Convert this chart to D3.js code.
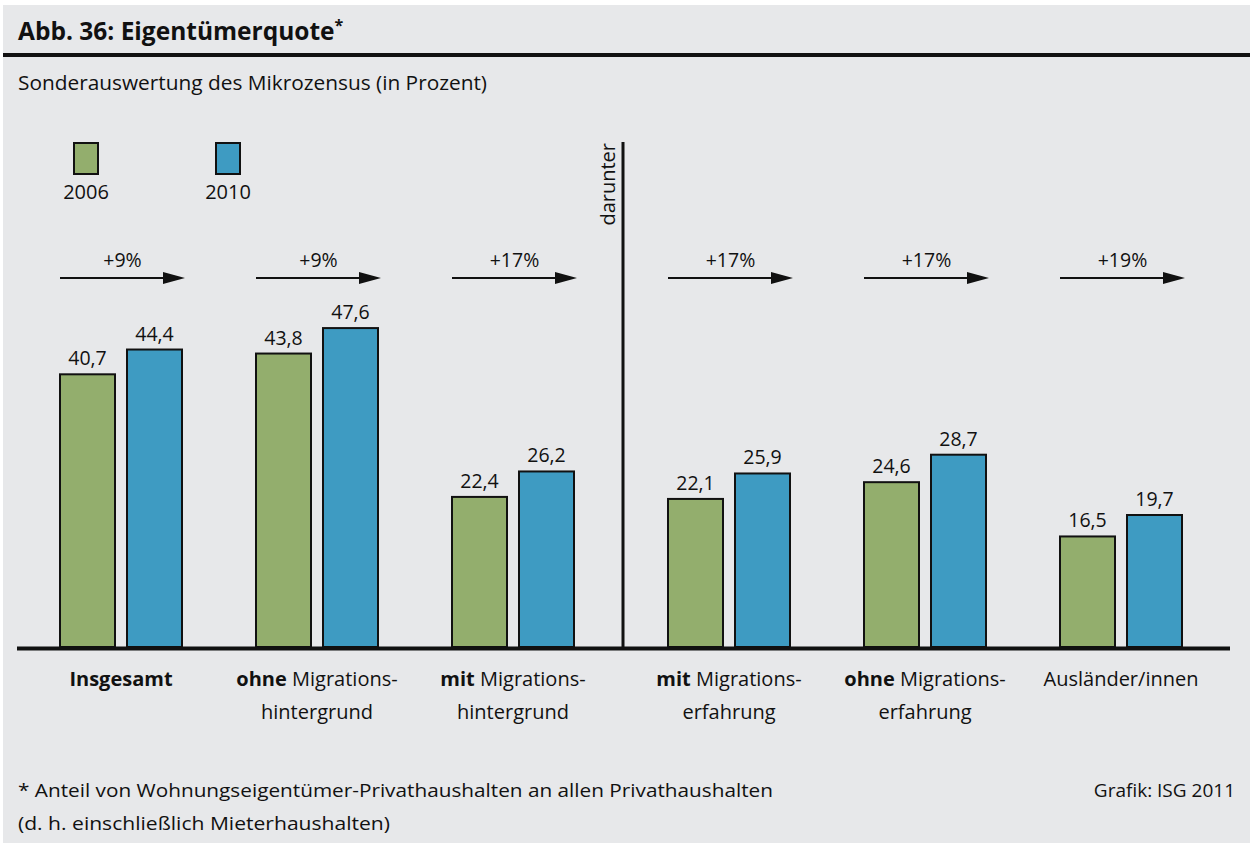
<!DOCTYPE html>
<html>
<head>
<meta charset="utf-8">
<script src="https://cdn.jsdelivr.net/npm/d3@7"></script>
<style>
  body { margin: 0; background: #fff; }
  text { font-family: "Open Sans", "Noto Sans", sans-serif; fill: #111; }
</style>
</head>
<body>
<svg id="chart"></svg>
<script>
// data
const categories = ["insgesamt", "ohneHintergrund", "mitHintergrund", "mitErfahrung", "ohneErfahrung", "auslaender"];
const leftCategories = categories.slice(0, 3);
const rightCategories = categories.slice(3);
const labelBold = ["Insgesamt", "ohne", "mit", "mit", "ohne", ""];
const labelLine1 = ["", " Migrations-", " Migrations-", " Migrations-", " Migrations-", "Ausländer/innen"];
const labelLine2 = ["", "hintergrund", "hintergrund", "erfahrung", "erfahrung", ""];
const years = ["2006", "2010"];
const values2006 = [40.7, 43.8, 22.4, 22.1, 24.6, 16.5];
const values2010 = [44.4, 47.6, 26.2, 25.9, 28.7, 19.7];
const changes = ["+9%", "+9%", "+17%", "+17%", "+17%", "+19%"];
const colors = ["#93ae6d", "#3e9bc2"];

const width = 1253, height = 843;
const baseY = 647;

const svg = d3.select("#chart")
    .attr("width", width)
    .attr("height", height);

// panel background
svg.append("rect")
    .attr("x", 3).attr("y", 5)
    .attr("width", 1247).attr("height", height - 5)
    .attr("fill", "#e7e8ea");

// title
const title = svg.append("text")
    .attr("x", 18).attr("y", 40)
    .style("font-size", "24.5px")
    .style("font-weight", "bold");
title.append("tspan").text("Abb. 36: Eigentümerquote");
title.append("tspan").attr("dy", -9).style("font-size", "16px").text("*");

svg.append("rect")
    .attr("x", 3).attr("y", 53)
    .attr("width", 1247).attr("height", 4)
    .attr("fill", "#111");

svg.append("text")
    .attr("x", 18).attr("y", 90)
    .attr("textLength", 469)
    .attr("lengthAdjust", "spacingAndGlyphs")
    .style("font-size", "19.5px")
    .text("Sonderauswertung des Mikrozensus (in Prozent)");

// scales
const y = d3.scaleLinear().domain([0, 50]).range([baseY, baseY - 335]);
const xLeft = d3.scaleBand().domain(leftCategories).range([23, 611]);
const xRight = d3.scaleBand().domain(rightCategories).range([631, 1219]);
const x0 = c => leftCategories.includes(c) ? xLeft(c) : xRight(c);
const x1 = d3.scaleBand().domain(years).range([37, 159]).paddingInner(12 / 67);

const fmt = d3.formatLocale({ decimal: ",", thousands: ".", grouping: [3], currency: ["", " €"] }).format(".1f");

const rows = categories.map((c, i) => ({
    key: c,
    values: [values2006[i], values2010[i]],
    change: changes[i],
    bold: labelBold[i],
    line1: labelLine1[i],
    line2: labelLine2[i]
}));

const g = svg.append("g");

const group = g.selectAll(".group")
    .data(rows)
    .enter().append("g")
    .attr("class", "group")
    .attr("transform", d => "translate(" + x0(d.key) + ",0)");

// bars
group.selectAll("rect")
    .data(d => d.values.map((v, j) => ({ year: years[j], value: v, color: colors[j] })))
    .enter().append("rect")
    .attr("x", d => x1(d.year))
    .attr("y", d => y(d.value))
    .attr("width", x1.bandwidth())
    .attr("height", d => baseY - y(d.value))
    .attr("fill", d => d.color)
    .attr("stroke", "#111")
    .attr("stroke-width", 2);

// value labels
group.selectAll(".value")
    .data(d => d.values.map((v, j) => ({ year: years[j], value: v })))
    .enter().append("text")
    .attr("class", "value")
    .attr("x", d => x1(d.year) + x1.bandwidth() / 2)
    .attr("y", d => y(d.value) - 9)
    .attr("text-anchor", "middle")
    .style("font-size", "19.5px")
    .text(d => fmt(d.value));

// change arrows
const arrowY = 278;
const arrowStart = x1("2006");
const arrowEnd = x1("2010") + x1.bandwidth() + 3;
group.append("line")
    .attr("x1", arrowStart).attr("x2", arrowEnd - 18)
    .attr("y1", arrowY).attr("y2", arrowY)
    .attr("stroke", "#111")
    .attr("stroke-width", 2);
group.append("path")
    .attr("d", "M" + (arrowEnd - 22) + "," + (arrowY - 6)
        + "L" + arrowEnd + "," + arrowY
        + "L" + (arrowEnd - 22) + "," + (arrowY + 6) + "Z")
    .attr("fill", "#111");
group.append("text")
    .attr("x", (arrowStart + arrowEnd) / 2)
    .attr("y", 267)
    .attr("text-anchor", "middle")
    .style("font-size", "19.5px")
    .text(d => d.change);

// category labels
const catLabel = group.append("text")
    .attr("x", xLeft.bandwidth() / 2)
    .attr("y", 686)
    .attr("text-anchor", "middle")
    .style("font-size", "20px");
catLabel.append("tspan").style("font-weight", "bold").text(d => d.bold);
catLabel.append("tspan").text(d => d.line1);
group.append("text")
    .attr("x", xLeft.bandwidth() / 2)
    .attr("y", 719)
    .attr("text-anchor", "middle")
    .style("font-size", "20px")
    .text(d => d.line2);

// baseline
g.append("line")
    .attr("x1", 17).attr("x2", 1230)
    .attr("y1", baseY + 1.5).attr("y2", baseY + 1.5)
    .attr("stroke", "#111")
    .attr("stroke-width", 4);

// divider "darunter"
const divX = (xLeft.range()[1] + xRight.range()[0]) / 2 + 2;
g.append("line")
    .attr("x1", divX).attr("x2", divX)
    .attr("y1", 142).attr("y2", baseY)
    .attr("stroke", "#111")
    .attr("stroke-width", 3);
g.append("text")
    .attr("transform", "translate(" + (divX - 8) + ",143) rotate(-90)")
    .attr("text-anchor", "end")
    .style("font-size", "20px")
    .text("darunter");

// legend
const legend = svg.selectAll(".legend")
    .data(years)
    .enter().append("g")
    .attr("class", "legend")
    .attr("transform", (d, i) => "translate(" + (86 + i * 142) + ",0)");
legend.append("rect")
    .attr("x", -12).attr("y", 143)
    .attr("width", 24).attr("height", 31)
    .attr("fill", (d, i) => colors[i])
    .attr("stroke", "#111")
    .attr("stroke-width", 2);
legend.append("text")
    .attr("y", 199)
    .attr("text-anchor", "middle")
    .style("font-size", "20px")
    .text(d => d);

// footnotes
svg.append("text")
    .attr("x", 18).attr("y", 797)
    .attr("textLength", 755)
    .attr("lengthAdjust", "spacingAndGlyphs")
    .style("font-size", "19px")
    .text("* Anteil von Wohnungseigentümer-Privathaushalten an allen Privathaushalten");
svg.append("text")
    .attr("x", 18).attr("y", 830)
    .attr("textLength", 372)
    .attr("lengthAdjust", "spacingAndGlyphs")
    .style("font-size", "19px")
    .text("(d. h. einschließlich Mieterhaushalten)");
svg.append("text")
    .attr("x", 1235).attr("y", 797)
    .attr("text-anchor", "end")
    .style("font-size", "19px")
    .text("Grafik: ISG 2011");
</script>
</body>
</html>
